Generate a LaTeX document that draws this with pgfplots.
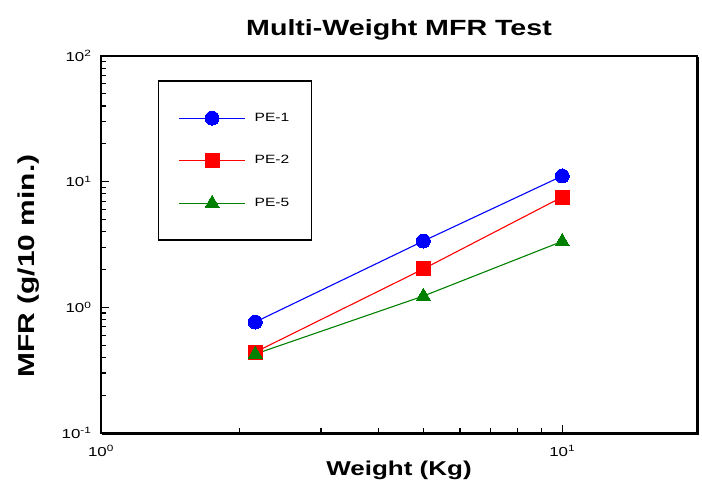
\documentclass[border=0pt]{standalone}
\usepackage{pgfplots}
\pgfplotsset{compat=1.18}
\usepackage{fontspec}
\setmainfont{Liberation Sans}[FakeStretch=1.3]
\definecolor{pgreen}{RGB}{0,128,0}
\begin{document}
\begin{tikzpicture}
\begin{axis}[
  scale only axis,
  width=596pt, height=377pt,
  xmode=log, ymode=log,
  xmin=1, xmax=19.6, ymin=0.1, ymax=100,
  axis line style={line width=1.4pt},
  tick pos=left,
  tick style={black, line width=1.2pt},
  major tick length=8pt, minor tick length=5pt,
  xtick={1,10}, xticklabels={10\textsuperscript{0},10\textsuperscript{1}},
  minor xtick={2,3,4,5,6,7,8,9},
  ytick={0.1,1,10,100},
  yticklabels={10\textsuperscript{-1},10\textsuperscript{0},10\textsuperscript{1},10\textsuperscript{2}},
  minor ytick={0.2,0.3,0.4,0.5,0.6,0.7,0.8,0.9,2,3,4,5,6,7,8,9,20,30,40,50,60,70,80,90},
  ticklabel style={font=\fontsize{13}{13}\selectfont},
  xticklabel style={yshift=-9pt},
  yticklabel style={xshift=-6pt},
  title={\bfseries Multi-Weight MFR Test},
  title style={font=\fontsize{22}{22}\selectfont, yshift=6pt},
  xlabel={\bfseries Weight (Kg)},
  ylabel={\bfseries MFR (g/10 min.)},
  xlabel style={font=\fontsize{20}{20}\selectfont, yshift=2pt},
  every axis y label/.style={at={(rel axis cs:0,0.443)}, xshift=-72pt, rotate=90, anchor=center,
     font=\fontsize{23}{23}\selectfont},
  legend style={at={(0.0955,0.935)}, anchor=north west, draw=black, line width=1.3pt,
    fill=white,
    font=\fontsize{12}{12}\selectfont, inner xsep=20pt, inner ysep=30pt, row sep=28pt,
    /tikz/every odd column/.append style={column sep=7pt}},
  legend cell align=left,
  legend image code/.code={\draw[mark repeat=2,mark phase=2,#1] plot coordinates {(0pt,0pt) (33pt,0pt) (66pt,0pt)};},
]
\addplot[blue, line width=1.1pt, mark=*, mark size=7pt, mark options={fill=blue, draw=blue, line width=0pt}] coordinates {(2.16,0.764) (5,3.37) (10,11.1)};
\addlegendentry{PE-1}
\addplot[red, line width=1.1pt, mark=square*, mark size=7pt, mark options={fill=red, draw=red, line width=0pt}] coordinates {(2.16,0.44) (5,2.02) (10,7.55)};
\addlegendentry{PE-2}
\addplot[pgreen, line width=1.1pt, mark=triangle*, mark size=8pt, mark options={fill=pgreen, draw=pgreen, line width=0pt}] coordinates {(2.16,0.425) (5,1.23) (10,3.35)};
\addlegendentry{PE-5}
\end{axis}
\begin{scope}[shift={(current axis.south west)}, x=1pt, y=1pt]
  \foreach \v in {2,3,4,5,6,7,8,9} {\draw[black, line width=1.2pt] ({596*log10(\v)/log10(19.6)},0) -- ++(0,5);}
  \draw[black, line width=1.2pt] ({596/log10(19.6)},0) -- ++(0,8);
  \foreach \d in {0,1,2} {
    \foreach \v in {2,3,4,5,6,7,8,9} {\draw[black, line width=1.2pt] (0,{377*(\d+log10(\v))/3}) -- ++(5,0);}
  }
  \foreach \d in {1,2} {\draw[black, line width=1.2pt] (0,{377*\d/3}) -- ++(8,0);}
  \draw[black, line width=1.2pt] (597.2,376) -- (597.2,-1.2) -- (1,-1.2);
\end{scope}
\path (current axis.south west) ++(-101pt,-63pt) coordinate (a);
\path (current axis.north east) ++(5pt,56pt) coordinate (b);
\path (a) rectangle (b);
\end{tikzpicture}
\end{document}
